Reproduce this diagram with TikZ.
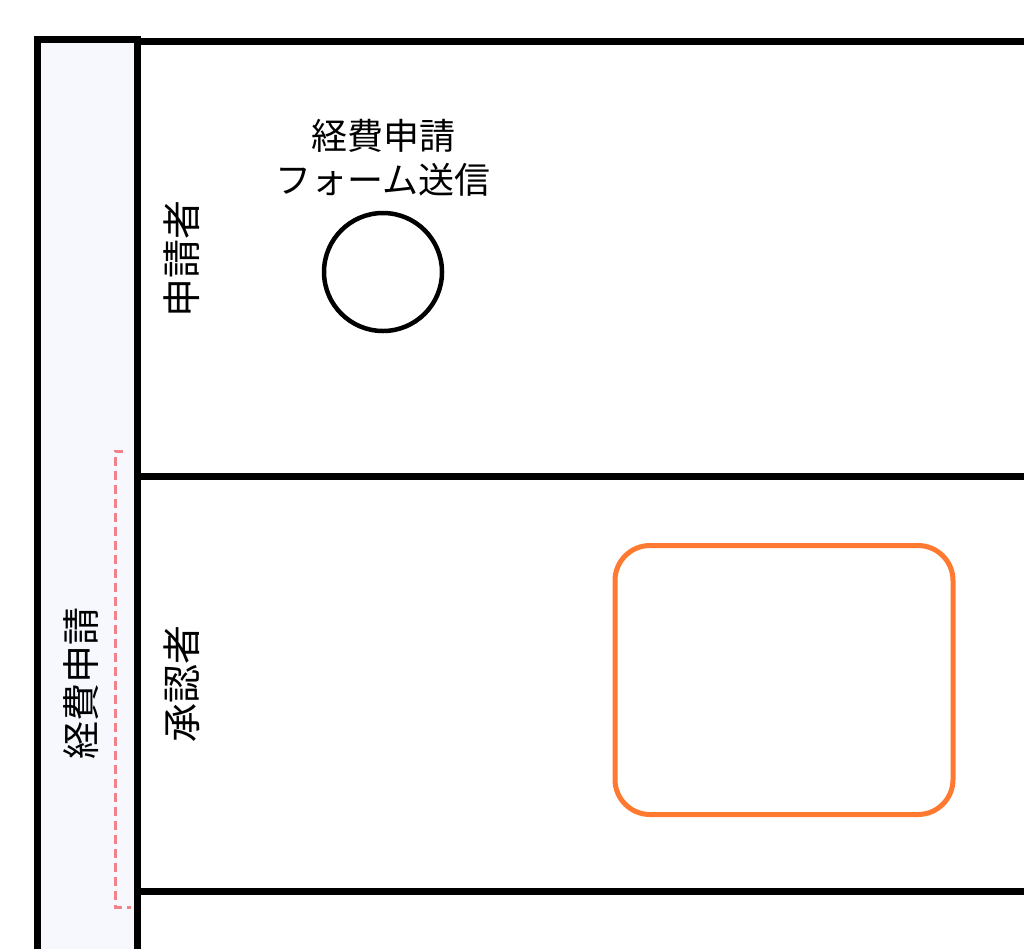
\documentclass[tikz,border=0pt]{standalone}
\usepackage{fontspec}
\newfontfamily\jpfont{Noto Sans CJK JP}
\usetikzlibrary{positioning}
\definecolor{poolfill}{RGB}{247,248,254}
\definecolor{taskorange}{RGB}{255,122,48}
\definecolor{groupred}{RGB}{242,130,138}

\begin{document}
\begin{tikzpicture}[x=1pt, y=-1pt,
        pool/.style={rectangle, draw, line width=7pt, fill=poolfill, anchor=north west, inner sep=0pt, minimum width=100pt, minimum height=1288pt},
        lane/.style={rectangle, draw, line width=7pt, anchor=north west, inner sep=0pt, minimum width=1000pt},
        lanelabel/.style={rotate=90, inner sep=0pt, font=\jpfont\fontsize{39}{42}\selectfont},
        poollabel/.style={rotate=90, inner sep=0pt, font=\jpfont\fontsize{38}{42}\selectfont},
        startevent/.style={circle, draw, line width=4.5pt, minimum size=118pt, inner sep=0pt},
        evlabel/.style={align=center, inner sep=0pt, font=\jpfont\fontsize{36}{44}\selectfont},
        usertask/.style={rectangle, rounded corners=35pt, draw=taskorange, line width=5pt, minimum width=338pt, minimum height=269pt, inner sep=0pt}
    ]
        \useasboundingbox (0,0) rectangle (1024,948);
        \clip (0,0) rectangle (1024,948);

        % プールとレーン
        \node [pool] (pool) at (34,36) {};
        \node [lane, minimum height=435pt] (lane1) at (134,38) {};
        \node [lane, minimum height=415pt] (lane2) at (134,473) {};
        \node [lane, minimum height=400pt] (lane3) at (134,888) {};

        \node [poollabel] (poolname) at ([xshift=-6pt]pool.center) {経費申請};
        \node [lanelabel] (name1) at ([xshift=48pt]lane1.west) {申請者};
        \node [lanelabel] (name2) at ([xshift=48pt]lane2.west) {承認者};

        % イベントとタスク
        \node [startevent] (start) at (383,272) {};
        \node [evlabel, above=14pt of start] (starttext) {経費申請\\フォーム送信};
        \node [usertask] (approve) at (784,680) {};

        % グループ
        \coordinate (g1) at (123,451);
        \coordinate (g2) at (115,451);
        \coordinate (g3) at (115,907);
        \coordinate (g4) at (131,907);
        \draw [groupred, line width=3pt, dash pattern=on 9pt off 5pt] (g1) -- (g2) -- (g3) -- (g4);
    \end{tikzpicture}
\end{document}
